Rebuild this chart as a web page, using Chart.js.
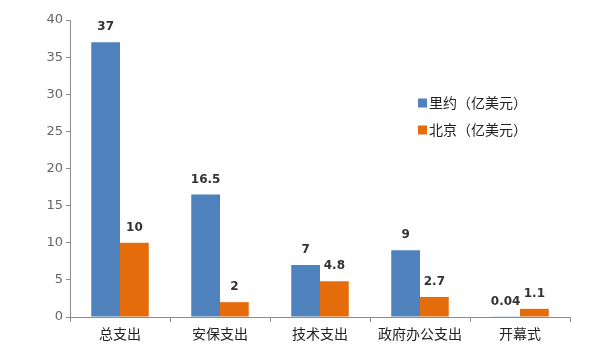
<!DOCTYPE html>
<html><head><meta charset="utf-8">
<script src="https://cdn.jsdelivr.net/npm/chart.js@4/dist/chart.umd.min.js"></script>
<style>html,body{margin:0;padding:0;background:#fff}#wrap{width:600px;height:347px;position:relative}</style>
</head><body><div id="wrap"><canvas id="c"></canvas></div>
<script>
const categories = ['总支出', '安保支出', '技术支出', '政府办公支出', '开幕式'];
const rioValues = [37, 16.5, 7, 9, 0.04];
const beijingValues = [10, 2, 4.8, 2.7, 1.1];
const rioLabel = '里约（亿美元）';
const beijingLabel = '北京（亿美元）';
const yTicks = [0, 5, 10, 15, 20, 25, 30, 35, 40];

const cjk = '"Noto Sans CJK SC", "DejaVu Sans", sans-serif';

const valueLabels = {
  id: 'valueLabels',
  afterDatasetsDraw(chart) {
    const ctx = chart.ctx;
    ctx.save();
    ctx.font = 'bold 12px "DejaVu Sans", sans-serif';
    ctx.fillStyle = '#333333';
    ctx.textAlign = 'center';
    ctx.textBaseline = 'middle';
    chart.data.datasets.forEach((ds, i) => {
      chart.getDatasetMeta(i).data.forEach((bar, j) => {
        ctx.fillText(String(ds.data[j]), bar.x, bar.y - 15);
      });
    });
    ctx.restore();
  }
};

const customLegend = {
  id: 'customLegend',
  afterDraw(chart) {
    const ctx = chart.ctx;
    ctx.save();
    ctx.font = '14px ' + cjk;
    ctx.textBaseline = 'middle';
    ctx.textAlign = 'left';
    const rows = [103, 130];
    chart.data.datasets.forEach((ds, i) => {
      const y = rows[i];
      ctx.fillStyle = ds.backgroundColor;
      ctx.fillRect(418, y - 4.5, 9, 9);
      ctx.fillStyle = '#222222';
      ctx.fillText(ds.label, 429, y);
    });
    ctx.restore();
  }
};

new Chart(document.getElementById('c'), {
  type: 'bar',
  data: {
    labels: categories,
    datasets: [
      { label: rioLabel, data: rioValues, backgroundColor: '#4F81BD' },
      { label: beijingLabel, data: beijingValues, backgroundColor: '#E46C0A' }
    ]
  },
  options: {
    responsive: true,
    maintainAspectRatio: false,
    animation: false,
    layout: { padding: { top: 20, right: 30, left: 0, bottom: 0 } },
    plugins: { legend: { display: false }, tooltip: { enabled: false } },
    datasets: { bar: { categoryPercentage: 0.575, barPercentage: 1.0 } },
    scales: {
      x: {
        grid: { display: true, drawOnChartArea: false, drawTicks: true, tickLength: 5, color: '#8c8c8c', offset: true },
        border: { color: '#8c8c8c', width: 1 },
        ticks: { color: '#222222', font: { family: cjk, size: 14 }, padding: 3, maxRotation: 0 },
        afterFit(scale) { scale.height = 30; }
      },
      y: {
        min: 0, max: 40,
        afterBuildTicks(scale) { scale.ticks = yTicks.map(v => ({ value: v })); },
        grid: { display: true, drawOnChartArea: false, drawTicks: true, tickLength: 4, color: '#8c8c8c' },
        border: { color: '#8c8c8c', width: 1 },
        ticks: { color: '#666666', font: { family: '"DejaVu Sans", sans-serif', size: 13 }, padding: 3 },
        afterFit(scale) { scale.width = 70; }
      }
    }
  },
  plugins: [valueLabels, customLegend]
});
</script></body></html>
